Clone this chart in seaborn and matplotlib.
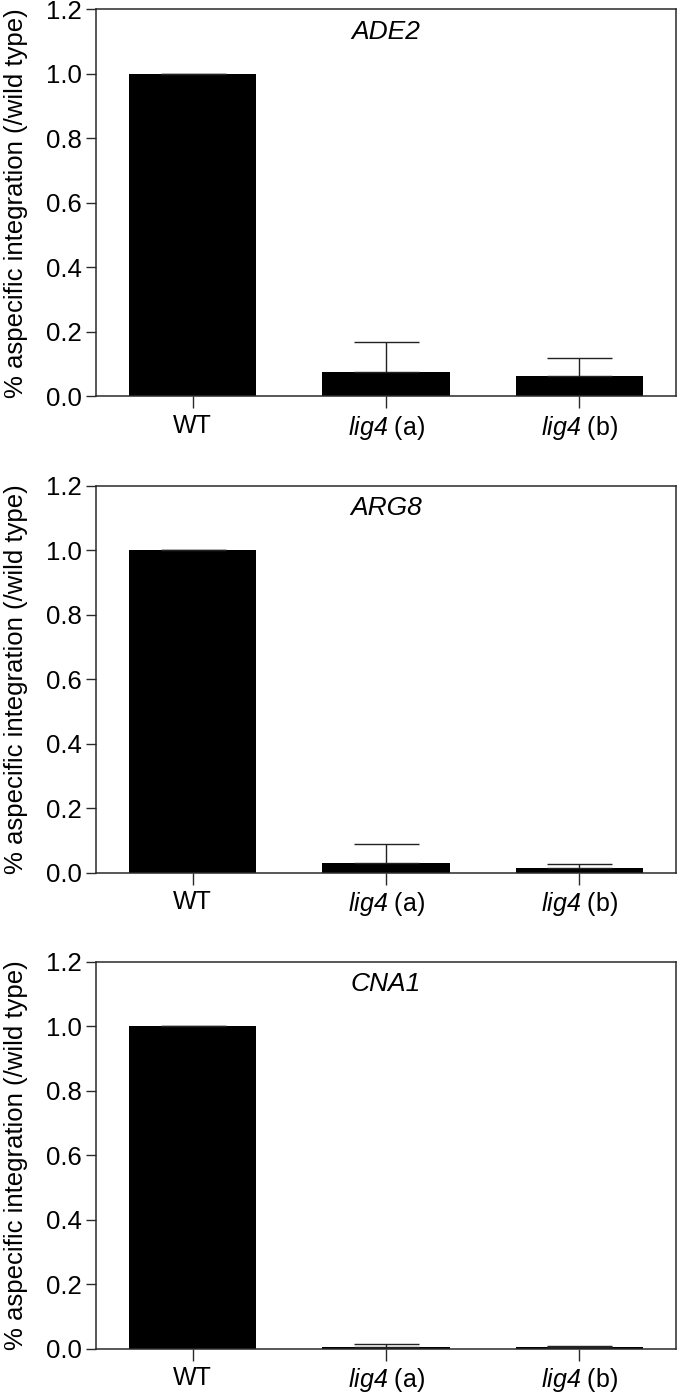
import numpy as np
import pandas as pd
import matplotlib
matplotlib.use('Agg')
import matplotlib.pyplot as plt
import seaborn as sns

# --- Data ---
strains = ['WT', 'lig4 (a)', 'lig4 (b)']
tick_labels = ['WT', r'$\mathrm{lig4}$ (a)', r'$\mathrm{lig4}$ (b)']
genes = ['ADE2', 'ARG8', 'CNA1']

ade2_mean = [1.0, 0.077, 0.063]
ade2_err = [0.0, 0.093, 0.056]

arg8_mean = [1.0, 0.031, 0.0135]
arg8_err = [0.0, 0.057, 0.0125]

cna1_mean = [1.0, 0.004, 0.004]
cna1_err = [0.0, 0.0085, 0.0035]

y_ticks = [0.0, 0.2, 0.4, 0.6, 0.8, 1.0, 1.2]
y_label = '% aspecific integration (/wild type)'

# --- Style ---
sns.set_style('ticks')
plt.rcParams['font.family'] = ['Liberation Sans', 'DejaVu Sans']
# mathtext only used for the italic gene name "lig4" (digit included)
plt.rcParams['mathtext.fontset'] = 'custom'
plt.rcParams['mathtext.rm'] = 'Liberation Sans:italic'
plt.rcParams['mathtext.it'] = 'Liberation Sans:italic'
plt.rcParams['axes.edgecolor'] = '#2a2a2a'
plt.rcParams['axes.linewidth'] = 1.1
plt.rcParams['text.color'] = 'black'
plt.rcParams['axes.labelcolor'] = 'black'
plt.rcParams['xtick.color'] = '#2a2a2a'
plt.rcParams['ytick.color'] = '#2a2a2a'
plt.rcParams['xtick.labelcolor'] = 'black'
plt.rcParams['ytick.labelcolor'] = 'black'

fig = plt.figure(figsize=(6.8, 13.92), dpi=100)

panels = [
    (genes[0], ade2_mean, ade2_err, 0.7152),
    (genes[1], arg8_mean, arg8_err, 0.3732),
    (genes[2], cna1_mean, cna1_err, 0.03125),
]

for gene, means, errs, bottom in panels:
    ax = fig.add_axes([0.1412, bottom, 0.8529, 0.2780])
    df = pd.DataFrame({'strain': strains, 'value': means})
    sns.barplot(data=df, x='strain', y='value', color='black', saturation=1,
                width=0.66, errorbar=None, ax=ax, linewidth=0)
    # only the upper half of the error bars is drawn
    ax.errorbar(np.arange(len(strains)), means,
                yerr=[np.zeros(len(errs)), errs], fmt='none',
                ecolor='#222222', elinewidth=1.0, capsize=23.4, capthick=1.0)

    ax.set_xlim(-0.5, 2.5)
    ax.set_ylim(0, 1.2)
    ax.set_yticks(y_ticks)
    ax.set_yticklabels([f'{t:.1f}' for t in y_ticks])
    ax.set_xticks(range(len(strains)))
    ax.set_xticklabels(tick_labels)
    ax.set_xlabel('')
    ax.set_ylabel(y_label, fontsize=18.5)
    ax.yaxis.set_label_coords(-0.118, 0.5)
    ax.tick_params(axis='y', labelsize=18.5, length=7.5, width=1.0, pad=3)
    ax.tick_params(axis='x', labelsize=18, length=8.6, width=1.0, pad=4)
    for side in ['top', 'right', 'left', 'bottom']:
        ax.spines[side].set_visible(True)
    ax.text(0.5, 0.943, gene, transform=ax.transAxes, ha='center',
            va='center', fontsize=19, style='italic')

fig.savefig('out.png', dpi=100)
plt.close(fig)
